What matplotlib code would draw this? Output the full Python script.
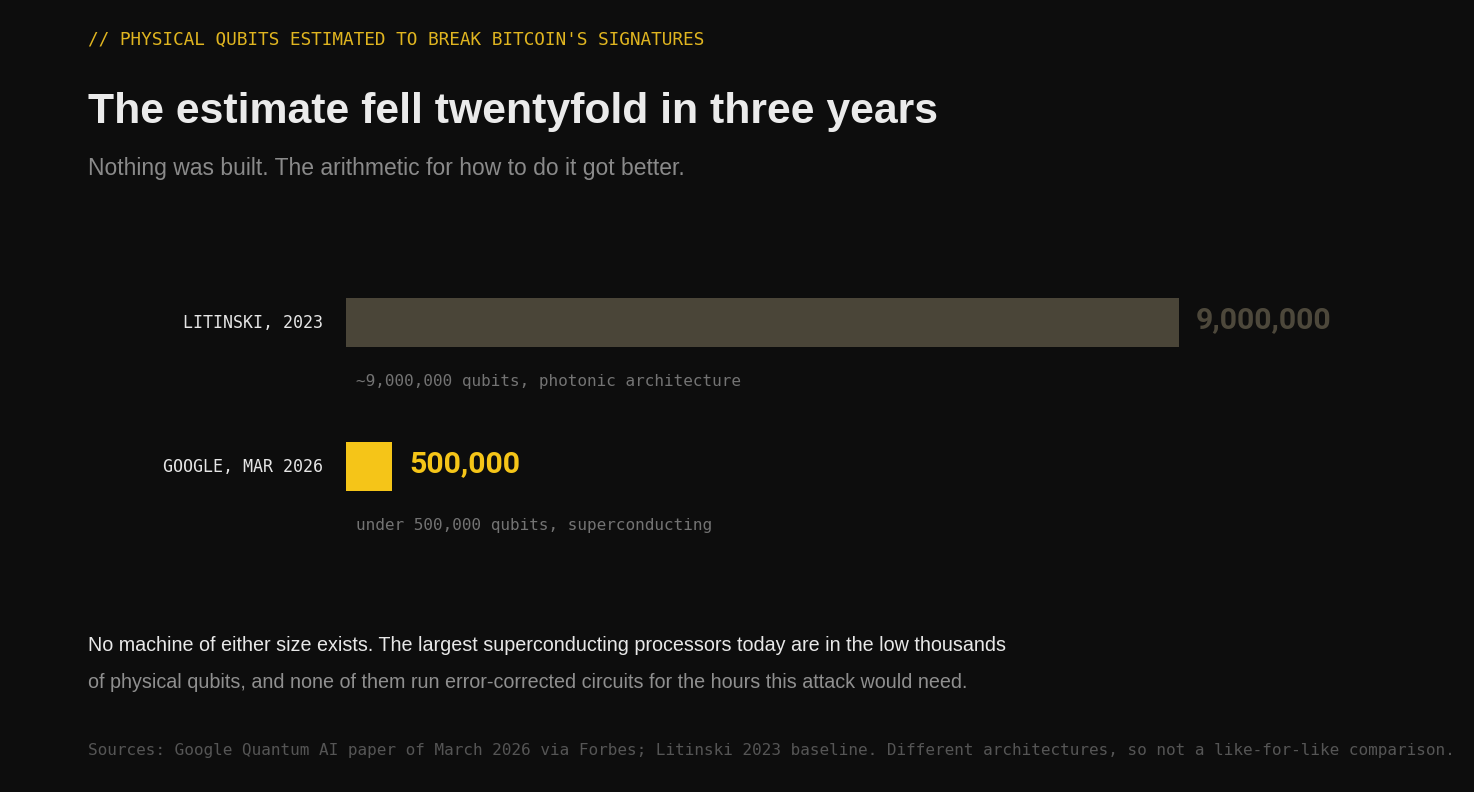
import matplotlib.pyplot as plt

W, H = 1474, 792

labels = ["LITINSKI, 2023", "GOOGLE, MAR 2026"]
qubits = [9_000_000, 500_000]
value_text = ["9,000,000", "500,000"]
notes = ["~9,000,000 qubits, photonic architecture",
         "under 500,000 qubits, superconducting"]

BG = "#0d0d0d"
YELLOW = "#f5c518"
OLD = "#4a4538"

fig = plt.figure(figsize=(W / 100, H / 100), dpi=100, facecolor=BG)

def ftext(x, y, s, **kw):
    # place text by pixel position (y from the top)
    fig.text(x / W, 1 - y / H, s, va="baseline", **kw)

mono = "DejaVu Sans Mono"
sans = "Liberation Sans"

ftext(88, 45, "// PHYSICAL QUBITS ESTIMATED TO BREAK BITCOIN'S SIGNATURES",
      family=mono, fontsize=12.75, color="#e0b520")
ftext(88, 123, "The estimate fell twentyfold in three years",
      family=sans, fontsize=30.8, fontweight="bold", color="#ebebeb")
ftext(88, 175, "Nothing was built. The arithmetic for how to do it got better.",
      family=sans, fontsize=16.5, color="#8a8a8a")

# bar panel
left, right, top, bottom = 346, 1179, 298, 491
ax = fig.add_axes([left / W, 1 - bottom / H, (right - left) / W, (bottom - top) / H])
ax.set_facecolor("none")
h = 49 / 144
colors = [OLD, YELLOW]
ypos = list(range(len(qubits)))
ax.barh(ypos, qubits, height=h, color=colors, align="center")
ax.set_xlim(0, max(qubits))
ax.set_ylim(len(qubits) - 1 + h / 2, -h / 2)
ax.axis("off")

val_colors = ["#4d483b", YELLOW]
for i, (lab, q, vt, note) in enumerate(zip(labels, qubits, value_text, notes)):
    ax.annotate(lab, xy=(0, i), xytext=(-16.5, -4), textcoords="offset points",
                ha="right", va="baseline", family=mono, fontsize=12,
                color="#e6e6e6", annotation_clip=False)
    ax.annotate(vt, xy=(q, i), xytext=(12.2, -4), textcoords="offset points",
                ha="left", va="baseline", family="Roboto", fontweight="bold",
                fontsize=21.8, color=val_colors[i], annotation_clip=False)
    ax.annotate(note, xy=(0, i), xytext=(7.2, -45.7), textcoords="offset points",
                ha="left", va="baseline", family=mono, fontsize=11.5,
                color="#737373", annotation_clip=False)

ftext(88, 651, "No machine of either size exists. The largest superconducting processors today are in the low thousands",
      family=sans, fontsize=14.2, color="#e8e8e8")
ftext(88, 688, "of physical qubits, and none of them run error-corrected circuits for the hours this attack would need.",
      family=sans, fontsize=14.2, color="#8f8f8f")
ftext(88, 755, "Sources: Google Quantum AI paper of March 2026 via Forbes; Litinski 2023 baseline. "
      "Different architectures, so not a like-for-like comparison.",
      family=mono, fontsize=11.5, color="#555555")

fig.savefig("out.png", dpi=100, facecolor=BG)
